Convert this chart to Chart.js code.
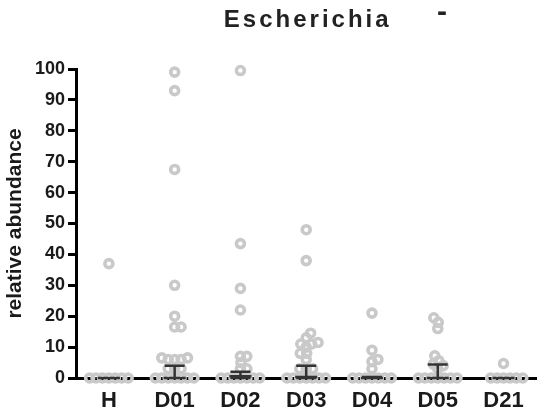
<!DOCTYPE html>
<html>
<head>
<meta charset="utf-8">
<script src="https://cdn.jsdelivr.net/npm/chart.js@4.4.1/dist/chart.umd.min.js"></script>
<style>
  html, body { margin: 0; padding: 0; background: #fff; }
  #wrap { width: 544px; height: 414px; }
</style>
</head>
<body>
<div id="wrap"><canvas id="chart" width="544" height="414"></canvas></div>
<script>
// ---- data -------------------------------------------------------------
const chartTitle = 'Escherichia';
const cornerMark = '-';
const yAxisTitle = 'relative abundance';
const categories = ['H', 'D01', 'D02', 'D03', 'D04', 'D05', 'D21'];
const yTickStep = 10;
const yMax = 100;

// relative abundance (%) of each sample, per group
const valuesH   = [37, 0, 0, 0, 0, 0, 0, 0];
const valuesD01 = [99, 93, 67.5, 30, 20, 16.5, 16.5, 6.5, 6, 6, 6, 6.5, 3, 3, 3, 0, 0, 0, 0, 0, 0, 0];
const valuesD02 = [99.5, 43.5, 29, 22, 7, 7, 5, 3, 3, 0, 0, 0, 0, 0, 0, 0];
const valuesD03 = [48, 38, 14.5, 13, 11.5, 11, 11, 10, 8, 8, 6, 3, 3, 3, 0, 0, 0, 0, 0, 0, 0];
const valuesD04 = [21, 9, 6, 5.3, 3, 0, 0, 0, 0, 0, 0, 0];
const valuesD05 = [19.5, 18, 16, 7.2, 5.6, 4.5, 4, 3, 0, 0, 0, 0, 0, 0, 0];
const valuesD21 = [4.7, 0, 0, 0, 0, 0, 0];

// median with interquartile range, per group
const medianValues = [0, 0, 0.6, 0.3, 0, 0, 0];
const q1Values     = [0, 0, 0, 0, 0, 0, 0];
const q3Values     = [0, 4, 2, 4, 0.3, 4.4, 0];

const groups = [valuesH, valuesD01, valuesD02, valuesD03, valuesD04, valuesD05, valuesD21];

// ---- scatter spreading (beeswarm) -------------------------------------
// approximate pixel sizes of one value unit and one category column
const PX_PER_VALUE = 3.09;
const PX_PER_CATEGORY = 66.6;
const MIN_GAP_PX = 6.2;

function swarmOffsets(values) {
  const order = values.map((_, i) => i).sort((a, b) => values[a] - values[b]);
  const placed = [];
  const offsets = new Array(values.length).fill(0);
  for (const i of order) {
    const py = values[i] * PX_PER_VALUE;
    let px = 0;
    for (let k = 0; k < 400; k++) {
      const cand = k === 0 ? 0 : (k % 2 ? 1 : -1) * Math.ceil(k / 2) * 0.5;
      if (placed.every(p => Math.hypot(p.x - cand, p.y - py) >= MIN_GAP_PX - 1e-6)) { px = cand; break; }
    }
    placed.push({ x: px, y: py });
    offsets[i] = px / PX_PER_CATEGORY;
  }
  return offsets;
}

const points = [];
groups.forEach((vals, gi) => {
  const offs = swarmOffsets(vals);
  vals.forEach((v, j) => points.push({ x: gi + offs[j], y: v }));
});

// ---- plugins ----------------------------------------------------------
const FONT = '"Liberation Sans", Arial, Helvetica, sans-serif';

const headingPlugin = {
  id: 'heading',
  afterDraw(chart) {
    const ctx = chart.ctx;
    const area = chart.chartArea;
    ctx.save();
    ctx.fillStyle = '#222';
    ctx.textBaseline = 'alphabetic';
    ctx.textAlign = 'center';
    ctx.font = 'bold 24px ' + FONT;
    ctx.letterSpacing = '3px';
    ctx.fillText(chartTitle, (area.left + area.right) / 2 + 1.5, 27);
    ctx.letterSpacing = '0px';
    ctx.font = 'bold 30px ' + FONT;
    ctx.fillText(cornerMark, 442, 21);
    ctx.restore();
  }
};

const medianIqrPlugin = {
  id: 'medianIqr',
  afterDatasetsDraw(chart) {
    const { ctx, scales: { x, y } } = chart;
    ctx.save();
    ctx.strokeStyle = '#333';
    ctx.lineWidth = 2.5;
    categories.forEach((_, i) => {
      const cx = x.getPixelForValue(i);
      const yMed = y.getPixelForValue(medianValues[i]);
      const yQ1 = y.getPixelForValue(q1Values[i]);
      const yQ3 = y.getPixelForValue(q3Values[i]);
      ctx.beginPath();
      ctx.moveTo(cx - 11, yMed); ctx.lineTo(cx + 11, yMed);
      ctx.moveTo(cx, yQ1); ctx.lineTo(cx, yQ3);
      ctx.moveTo(cx - 10, yQ3); ctx.lineTo(cx + 10, yQ3);
      ctx.moveTo(cx - 10, yQ1); ctx.lineTo(cx + 10, yQ1);
      ctx.stroke();
    });
    ctx.restore();
  }
};

// ---- chart ------------------------------------------------------------
new Chart(document.getElementById('chart'), {
  type: 'scatter',
  data: {
    datasets: [{
      data: points,
      pointStyle: 'circle',
      pointRadius: 4,
      pointHoverRadius: 4,
      pointBorderWidth: 3.6,
      borderColor: '#c9c9c9',
      backgroundColor: 'rgba(0,0,0,0)',
      clip: false
    }]
  },
  options: {
    responsive: false,
    animation: false,
    devicePixelRatio: 1,
    layout: { padding: { top: 69, right: 1, bottom: 0, left: 0 } },
    plugins: { legend: { display: false }, tooltip: { enabled: false }, title: { display: false } },
    scales: {
      x: {
        type: 'linear',
        min: -0.5,
        max: categories.length - 0.5,
        afterBuildTicks(scale) { scale.ticks = categories.map((_, i) => ({ value: i })); },
        afterFit(scale) { scale.height = 36; },
        grid: { display: false, drawTicks: false },
        border: { display: true, color: '#000', width: 3 },
        ticks: {
          autoSkip: false,
          maxRotation: 0,
          padding: 10,
          color: '#1a1a1a',
          font: { family: FONT, size: 22, weight: 'bold' },
          callback: v => categories[v]
        }
      },
      y: {
        min: 0,
        max: yMax,
        afterFit(scale) { scale.width = 76; },
        grid: { drawOnChartArea: false, drawTicks: true, tickLength: 8, tickWidth: 3, tickColor: '#000' },
        border: { display: true, color: '#000', width: 3 },
        ticks: {
          stepSize: yTickStep,
          padding: 3,
          color: '#1a1a1a',
          font: { family: FONT, size: 18, weight: 'bold' }
        },
        title: {
          display: true,
          text: yAxisTitle,
          color: '#1a1a1a',
          font: { family: FONT, size: 21, weight: 'bold' },
          padding: { top: 3, bottom: 0 }
        }
      }
    }
  },
  plugins: [headingPlugin, medianIqrPlugin]
});
</script>
</body>
</html>
